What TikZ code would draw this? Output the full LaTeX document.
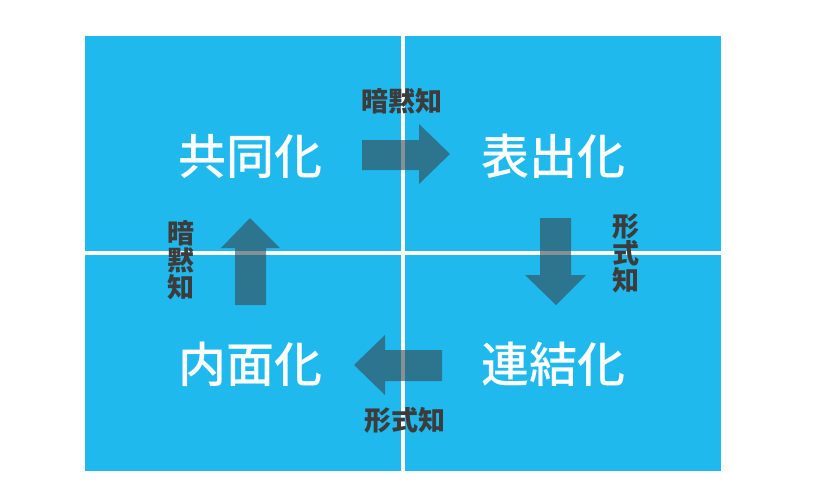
\documentclass[tikz,border=0pt]{standalone}
\usepackage{fontspec}
\newfontfamily\cjk{Noto Sans CJK JP}
\newfontfamily\cjkmed[UprightFont=* Medium]{Noto Sans CJK JP}
\definecolor{quadblue}{HTML}{20B9EE}
\definecolor{arrowgray}{HTML}{37474F}
\definecolor{labelgray}{HTML}{3C3C3C}
\begin{document}
\begin{tikzpicture}[x=1pt,y=-1pt,
  quad/.style={fill=quadblue,draw=none},
  bigtext/.style={text=white,font=\cjkmed\fontsize{48}{52}\selectfont,inner sep=0pt},
  smalltext/.style={text=labelgray,font=\cjk\bfseries\fontsize{27}{27}\selectfont,inner sep=0pt},
  vtext/.style={smalltext,align=center},
  blockarrow/.style={fill=arrowgray,fill opacity=0.6,draw=none}]
\useasboundingbox (0,0) rectangle (815,504);
% quadrants
\fill[quad] (85,36) rectangle (401,251);
\fill[quad] (405,36) rectangle (721,251);
\fill[quad] (85,255) rectangle (401,471);
\fill[quad] (405,255) rectangle (721,471);
% main labels
\node[bigtext] (kyodo) at (250,156) {共同化};
\node[bigtext] (hyoshutsu) at (553,156) {表出化};
\node[bigtext] (renketsu) at (553,364) {連結化};
\node[bigtext] (naimen) at (250,364) {内面化};
% arrows
\fill[blockarrow] (362,140) -- (419,140) -- (419,124) -- (450,154) -- (419,184) -- (419,170) -- (362,170) -- cycle;
\fill[blockarrow] (540,218) -- (571,218) -- (571,275) -- (586,275) -- (556,305) -- (525,275) -- (540,275) -- cycle;
\fill[blockarrow] (442,350) -- (385,350) -- (385,335) -- (354,365) -- (385,395) -- (385,381) -- (442,381) -- cycle;
\fill[blockarrow] (235,305) -- (235,248) -- (221,248) -- (250,218) -- (280,248) -- (266,248) -- (266,305) -- cycle;
% arrow labels
\node[smalltext] (tacit1) at (402,101) {暗黙知};
\node[vtext] (explicit1) at (626,253) {形\\式\\知};
\node[smalltext] (explicit2) at (405,420) {形式知};
\node[vtext] (tacit2) at (181,260) {暗\\黙\\知};
\end{tikzpicture}
\end{document}
